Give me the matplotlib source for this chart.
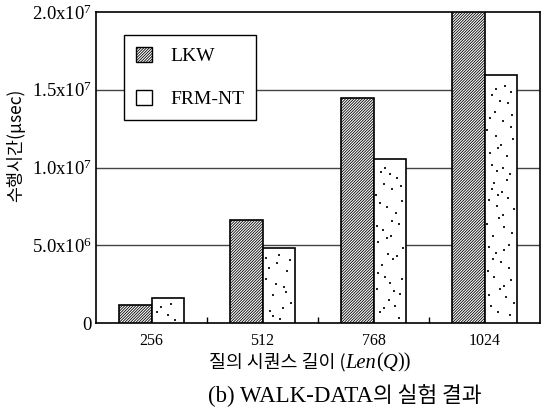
import matplotlib
matplotlib.use("Agg")
import numpy as np
from matplotlib import pyplot as plt
from matplotlib.offsetbox import AnchoredOffsetbox, HPacker, TextArea
from matplotlib.patches import Patch

# query lengths and running time (usec) per method
lengths = ["256", "512", "768", "1024"]
lkw_time = [1.15e6, 6.65e6, 1.445e7, 2.0e7]
frm_time = [1.6e6, 4.8e6, 1.055e7, 1.595e7]
series_names = ["LKW", "FRM-NT"]
y_ticks = [0, 5.0e6, 1.0e7, 1.5e7, 2.0e7]
y_tick_labels = ["0", r"5.0x10$^6$", r"1.0x10$^7$", r"1.5x10$^7$", r"2.0x10$^7$"]

SERIF = "Liberation Serif"
KR = "Noto Sans CJK KR"

plt.rcParams["font.family"] = [SERIF, KR]
plt.rcParams["mathtext.fontset"] = "custom"
plt.rcParams["mathtext.rm"] = SERIF
plt.rcParams["mathtext.it"] = SERIF + ":italic"
plt.rcParams["hatch.linewidth"] = 0.6

LKW_HATCH = "////////////"


def halton(n, base):
    out = np.zeros(n)
    for i in range(n):
        f, r, k = 1.0, 0.0, i + 1
        while k > 0:
            f /= base
            r += f * (k % base)
            k //= base
        out[i] = r
    return out


W, H = 542, 412
fig = plt.figure(figsize=(W / 100, H / 100), dpi=100)
ax = fig.add_axes([96 / W, 1 - 323 / H, (540 - 96) / W, (323 - 12) / H])

x = np.arange(len(lengths))
bw = 0.29
ax.bar(x - bw / 2, lkw_time, bw, facecolor="white", edgecolor="black",
       hatch=LKW_HATCH, linewidth=1.2, zorder=3)
ax.bar(x + bw / 2, frm_time, bw, facecolor="white", edgecolor="black",
       linewidth=1.2, zorder=3)

# sparse speckle texture for the FRM-NT bars
speck_x, speck_y = [], []
for j, (xc, h) in enumerate(zip(x + bw / 2, frm_time)):
    n = max(5, int(h / 2.0e7 * 70))
    u = halton(n + 7 * j, 2)[7 * j:]
    v = halton(n + 7 * j, 3)[7 * j:]
    speck_x.extend(xc - bw / 2 + bw * (0.07 + 0.86 * u))
    speck_y.extend(h * (0.02 + 0.96 * v))
ax.scatter(speck_x, speck_y, s=1.3, color="#222222", marker="s",
           linewidths=0, zorder=4)

for yv in y_ticks[1:-1]:
    ax.axhline(yv, color="#444444", linewidth=1.0, zorder=1)

ax.set_xlim(-0.5, 3.5)
ax.set_ylim(0, 2.0e7)
ax.set_xticks(x)
ax.set_xticklabels(lengths, fontsize=11.5, family=SERIF)
ax.set_xticks([0.5, 1.5, 2.5], minor=True)
ax.tick_params(axis="x", which="major", length=0, pad=7)
ax.tick_params(axis="x", which="minor", direction="in", length=4, width=1)
ax.set_yticks(y_ticks)
ax.set_yticklabels(y_tick_labels, fontsize=13.5)
ax.tick_params(axis="y", length=0, pad=3)
for sp in ax.spines.values():
    sp.set_linewidth(1.2)

handles = [Patch(facecolor="white", edgecolor="black", hatch=LKW_HATCH,
                 linewidth=1.0),
           Patch(facecolor="white", edgecolor="black", linewidth=1.0)]
leg = ax.legend(handles, series_names, loc="upper left",
                bbox_to_anchor=(124 / W, 1 - 35 / H),
                bbox_transform=fig.transFigure, prop={"family": SERIF, "size": 14},
                fancybox=False, edgecolor="black", framealpha=1,
                handlelength=0.82, handleheight=0.8, handletextpad=0.95,
                labelspacing=1.3, borderpad=0.6, borderaxespad=0)
leg.get_frame().set_linewidth(1.0)

fig.text(16 / W, 1 - 145 / H, "수행시간(μsec)", rotation=90,
         ha="center", va="center", fontsize=12.5, family=[KR])


def mixed_line(parts, center):
    boxes = [TextArea(s, textprops=p) for s, p in parts]
    pack = HPacker(children=boxes, align="baseline", pad=0, sep=0)
    anchored = AnchoredOffsetbox(loc="center", child=pack, frameon=False,
                                 bbox_to_anchor=center,
                                 bbox_transform=fig.transFigure, pad=0,
                                 borderpad=0)
    fig.add_artist(anchored)


kr = {"family": [KR], "size": 13.2}
ser = {"family": [SERIF], "size": 14.8}
ser_it = {"family": [SERIF], "size": 14.8, "style": "italic"}
mixed_line([("질의 시퀀스 길이 (", kr), ("Len", ser_it), ("(", ser),
            ("Q", ser_it), ("))", ser)], (310 / W, 1 - 363 / H))

mixed_line([("(b) WALK-DATA", {"family": [SERIF], "size": 16.5}),
            ("의 실험 결과", {"family": [KR], "size": 15.5})],
           (345 / W, 1 - 396 / H))

fig.savefig("out.png", dpi=100)
